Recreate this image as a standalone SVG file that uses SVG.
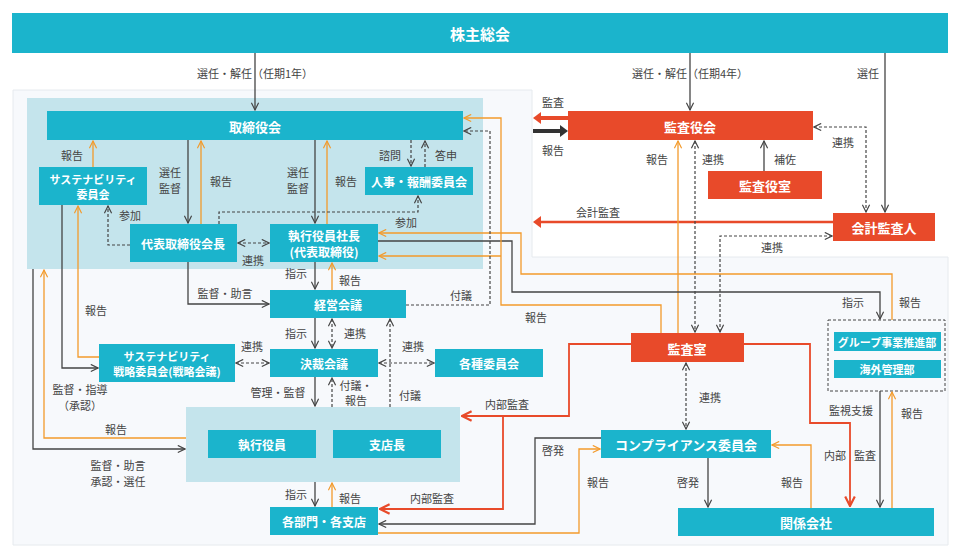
<svg xmlns="http://www.w3.org/2000/svg" width="960" height="557" viewBox="0 0 960 557">
<defs>
<style>
.t{fill:#1bb4cc}.r{fill:#e84a2a}
.nt{font-family:"Noto Sans CJK JP","Noto Sans",sans-serif;font-size:12px;font-weight:bold;fill:#fff;text-anchor:middle;dominant-baseline:central}
.lb{font-family:"Noto Sans CJK JP","Noto Sans",sans-serif;font-size:11px;fill:#444;text-anchor:middle;dominant-baseline:central}
.g{stroke:#444;stroke-width:1.3;fill:none}
.o{stroke:#f39a2b;stroke-width:1.3;fill:none}
.rd{stroke:#e84a2a;stroke-width:1.8;fill:none}
.d{stroke:#444;stroke-width:1.2;fill:none;stroke-dasharray:3 2}
</style>
<marker id="ag" viewBox="0 0 10 10" refX="9" refY="5" markerWidth="9" markerHeight="9" orient="auto-start-reverse" markerUnits="userSpaceOnUse"><path d="M1,1 L9,5 L1,9" fill="none" stroke="#444" stroke-width="1.3"/></marker>
<marker id="ao" viewBox="0 0 10 10" refX="9" refY="5" markerWidth="9" markerHeight="9" orient="auto-start-reverse" markerUnits="userSpaceOnUse"><path d="M1,1 L9,5 L1,9" fill="none" stroke="#f39a2b" stroke-width="1.3"/></marker>
<marker id="ar" viewBox="0 0 10 10" refX="9" refY="5" markerWidth="12" markerHeight="12" orient="auto-start-reverse" markerUnits="userSpaceOnUse"><path d="M1,1 L9,5 L1,9" fill="none" stroke="#e84a2a" stroke-width="1.8"/></marker>
</defs>
<rect width="960" height="557" fill="#fff"/>
<path d="M13,90 H532 V257 H948 V545 H13 Z" fill="#f7f9fc" stroke="#e6eaee"/>
<rect x="27" y="98" width="456" height="171" fill="#c4e4ec"/>
<rect x="186" y="407" width="274" height="75" fill="#c4e4ec"/>
<rect x="828" y="320" width="117" height="71" fill="none" stroke="#444" stroke-dasharray="3 2"/>

<g id="connectors">
<line class="g" x1="255" y1="53" x2="255" y2="110" marker-end="url(#ag)"/>
<line class="g" x1="690" y1="53" x2="690" y2="110" marker-end="url(#ag)"/>
<line class="g" x1="885" y1="53" x2="885" y2="212" marker-end="url(#ag)"/>
<line x1="568" y1="118" x2="536" y2="118" stroke="#e84a2a" stroke-width="4"/><path d="M541,112 L533,118 L541,124 Z" fill="#e84a2a"/>
<line x1="533" y1="131" x2="563" y2="131" stroke="#333" stroke-width="4"/><path d="M560,125 L568,131 L560,137 Z" fill="#333"/>
<line x1="833" y1="222" x2="538" y2="222" stroke="#e84a2a" stroke-width="2.5"/><path d="M541,216 L533,222 L541,228 Z" fill="#e84a2a"/>
<line class="g" x1="764" y1="171" x2="764" y2="141" marker-end="url(#ag)"/>
<polyline class="d" points="814,127 866,127 866,212" marker-start="url(#ag)" marker-end="url(#ag)"/>
<polyline class="d" points="720,332 720,236 832,236" marker-start="url(#ag)" marker-end="url(#ag)"/>
<line class="d" x1="695" y1="141" x2="695" y2="332" marker-start="url(#ag)" marker-end="url(#ag)"/>
<line class="o" x1="678" y1="333" x2="678" y2="141" marker-end="url(#ao)"/>
<line class="d" x1="686" y1="363" x2="686" y2="429" marker-start="url(#ag)" marker-end="url(#ag)"/>
<polyline class="rd" points="631,344 569,344 569,416 462,416" marker-end="url(#ar)"/>
<polyline class="rd" points="503,416 503,509 380,509" marker-end="url(#ar)"/>
<polyline class="rd" points="744,344 810,344 810,423 850,423 850,506" marker-end="url(#ar)"/>
<polyline class="g" points="601,438 535,438 535,524 379,524" marker-end="url(#ag)"/>
<polyline class="o" points="378,533 579,533 579,449 600,449" marker-end="url(#ao)"/>
<line class="g" x1="708" y1="458" x2="708" y2="507" marker-end="url(#ag)"/>
<polyline class="o" points="811,508 811,445 772,445" marker-end="url(#ao)"/>
<line class="g" x1="880" y1="391" x2="880" y2="507" marker-end="url(#ag)"/>
<line class="o" x1="892" y1="508" x2="892" y2="392" marker-end="url(#ao)"/>
<polyline class="g" points="378,241 512,241 512,292 880,292 880,319" marker-end="url(#ag)"/>
<polyline class="o" points="892,320 892,274 521,274 521,233 379,233" marker-end="url(#ao)"/>
<polyline class="o" points="661,333 661,305 501,305 501,118 464,118" marker-end="url(#ao)"/>
<line class="o" x1="501" y1="256" x2="379" y2="256" marker-end="url(#ao)"/>
<polyline class="d" points="406,305 490,305 490,131 464,131" marker-end="url(#ag)"/>
<line class="g" x1="188" y1="140" x2="188" y2="223" marker-end="url(#ag)"/>
<line class="o" x1="201" y1="224" x2="201" y2="141" marker-end="url(#ao)"/>
<line class="g" x1="315" y1="140" x2="315" y2="223" marker-end="url(#ag)"/>
<line class="o" x1="327" y1="224" x2="327" y2="141" marker-end="url(#ao)"/>
<line class="d" x1="411" y1="140" x2="411" y2="166" marker-end="url(#ag)"/>
<line class="d" x1="425" y1="167" x2="425" y2="141" marker-end="url(#ag)"/>
<line class="o" x1="93" y1="167" x2="93" y2="141" marker-end="url(#ao)"/>
<polyline class="d" points="130,245 108,245 108,206" marker-end="url(#ag)"/>
<polyline class="d" points="219,224 219,212 418,212 418,196" marker-end="url(#ag)"/>
<line class="d" x1="238" y1="243" x2="269" y2="243" marker-start="url(#ag)" marker-end="url(#ag)"/>
<line class="g" x1="315" y1="262" x2="315" y2="289" marker-end="url(#ag)"/>
<line class="o" x1="332" y1="290" x2="332" y2="263" marker-end="url(#ao)"/>
<polyline class="g" points="188,262 188,304 269,304" marker-end="url(#ag)"/>
<line class="g" x1="315" y1="318" x2="315" y2="348" marker-end="url(#ag)"/>
<line class="d" x1="332" y1="319" x2="332" y2="348" marker-start="url(#ag)" marker-end="url(#ag)"/>
<line class="d" x1="236" y1="363" x2="269" y2="363" marker-start="url(#ag)" marker-end="url(#ag)"/>
<line class="d" x1="379" y1="363" x2="434" y2="363" marker-start="url(#ag)" marker-end="url(#ag)"/>
<line class="g" x1="315" y1="377" x2="315" y2="406" marker-end="url(#ag)"/>
<line class="d" x1="332" y1="407" x2="332" y2="378" marker-end="url(#ag)"/>
<line class="d" x1="390" y1="407" x2="390" y2="319" marker-end="url(#ag)"/>
<line class="g" x1="315" y1="482" x2="315" y2="506" marker-end="url(#ag)"/>
<line class="o" x1="332" y1="507" x2="332" y2="483" marker-end="url(#ao)"/>
<polyline class="g" points="62,205 62,368 98,368" marker-end="url(#ag)"/>
<polyline class="o" points="99,357 78,357 78,206" marker-end="url(#ao)"/>
<polyline class="g" points="33,269 33,449 185,449" marker-end="url(#ag)"/>
<polyline class="o" points="186,438 44,438 44,270" marker-end="url(#ao)"/>
</g>

<g id="n-kabunushi"><rect class="t" x="12" y="13" width="936" height="40"/><text class="nt" x="480" y="33" style="font-size:15px">株主総会</text></g>
<g id="n-torishimari"><rect class="t" x="47" y="111" width="416" height="29"/><text class="nt" x="255" y="126" style="font-size:13px">取締役会</text></g>
<g id="n-sus1"><rect class="t" x="39" y="167" width="108" height="38"/><text class="nt" x="93" y="179" style="font-size:11px">サステナビリティ</text><text class="nt" x="93" y="194" style="font-size:11px">委員会</text></g>
<g id="n-jinji"><rect class="t" x="365" y="167" width="108" height="28"/><text class="nt" x="419" y="181">人事・報酬委員会</text></g>
<g id="n-kaicho"><rect class="t" x="130" y="224" width="107" height="38"/><text class="nt" x="183" y="243">代表取締役会長</text></g>
<g id="n-shacho"><rect class="t" x="270" y="224" width="108" height="38"/><text class="nt" x="324" y="235">執行役員社長</text><text class="nt" x="324" y="251">(代表取締役)</text></g>
<g id="n-keiei"><rect class="t" x="270" y="290" width="136" height="28"/><text class="nt" x="338" y="304">経営会議</text></g>
<g id="n-kessai"><rect class="t" x="270" y="349" width="108" height="28"/><text class="nt" x="324" y="363">決裁会議</text></g>
<g id="n-sus2"><rect class="t" x="99" y="344" width="136" height="38"/><text class="nt" x="167" y="356" style="font-size:11px">サステナビリティ</text><text class="nt" x="167" y="371" style="font-size:11px">戦略委員会(戦略会議)</text></g>
<g id="n-kakushu"><rect class="t" x="435" y="349" width="108" height="28"/><text class="nt" x="489" y="363">各種委員会</text></g>
<g id="n-shikko"><rect class="t" x="208" y="430" width="108" height="28"/><text class="nt" x="262" y="444">執行役員</text></g>
<g id="n-shiten"><rect class="t" x="333" y="430" width="108" height="28"/><text class="nt" x="387" y="444">支店長</text></g>
<g id="n-kakubu"><rect class="t" x="270" y="507" width="108" height="28"/><text class="nt" x="324" y="521">各部門・各支店</text></g>
<g id="n-kansayakukai"><rect class="r" x="568" y="111" width="245" height="29"/><text class="nt" x="690" y="126" style="font-size:13px">監査役会</text></g>
<g id="n-kansayakushitsu"><rect class="r" x="708" y="171" width="114" height="28"/><text class="nt" x="765" y="185" style="font-size:13px">監査役室</text></g>
<g id="n-kaikei"><rect class="r" x="833" y="213" width="102" height="28"/><text class="nt" x="884" y="227" style="font-size:13px">会計監査人</text></g>
<g id="n-kansashitsu"><rect class="r" x="631" y="333" width="113" height="29"/><text class="nt" x="687" y="348" style="font-size:13px">監査室</text></g>
<g id="n-group"><rect class="t" x="834" y="332" width="107" height="19"/><text class="nt" x="887" y="342" style="font-size:11px">グループ事業推進部</text></g>
<g id="n-kaigai"><rect class="t" x="834" y="360" width="107" height="18"/><text class="nt" x="887" y="369" style="font-size:11px">海外管理部</text></g>
<g id="n-comp"><rect class="t" x="601" y="430" width="170" height="28"/><text class="nt" x="686" y="444" style="font-size:13px">コンプライアンス委員会</text></g>
<g id="n-kankei"><rect class="t" x="678" y="508" width="256" height="28"/><text class="nt" x="806" y="522" style="font-size:13px">関係会社</text></g>

<g id="labels">
<text class="lb" x="255" y="73">選任・解任（任期1年）</text>
<text class="lb" x="690" y="73">選任・解任（任期4年）</text>
<text class="lb" x="868" y="73">選任</text>
<text class="lb" x="553" y="102">監査</text>
<text class="lb" x="553" y="150">報告</text>
<text class="lb" x="598" y="212">会計監査</text>
<text class="lb" x="785" y="159">補佐</text>
<text class="lb" x="843" y="142">連携</text>
<text class="lb" x="772" y="247">連携</text>
<text class="lb" x="713" y="159">連携</text>
<text class="lb" x="657" y="159">報告</text>
<text class="lb" x="710" y="397">連携</text>
<text class="lb" x="507" y="404">内部監査</text>
<text class="lb" x="432" y="498">内部監査</text>
<text class="lb" x="835" y="455">内部</text><text class="lb" x="865" y="455">監査</text>
<text class="lb" x="553" y="450">啓発</text>
<text class="lb" x="598" y="482">報告</text>
<text class="lb" x="688" y="482">啓発</text>
<text class="lb" x="792" y="482">報告</text>
<text class="lb" x="851" y="410">監視支援</text>
<text class="lb" x="912" y="413">報告</text>
<text class="lb" x="853" y="302">指示</text>
<text class="lb" x="910" y="302">報告</text>
<text class="lb" x="536" y="317">報告</text>
<text class="lb" x="461" y="295">付議</text>
<text class="lb" x="170" y="172">選任</text><text class="lb" x="170" y="188">監督</text>
<text class="lb" x="221" y="181">報告</text>
<text class="lb" x="298" y="172">選任</text><text class="lb" x="298" y="188">監督</text>
<text class="lb" x="346" y="181">報告</text>
<text class="lb" x="390" y="155">諮問</text>
<text class="lb" x="446" y="155">答申</text>
<text class="lb" x="72" y="155">報告</text>
<text class="lb" x="130" y="215">参加</text>
<text class="lb" x="406" y="222">参加</text>
<text class="lb" x="253" y="260">連携</text>
<text class="lb" x="296" y="273">指示</text>
<text class="lb" x="350" y="280">報告</text>
<text class="lb" x="225" y="293">監督・助言</text>
<text class="lb" x="296" y="333">指示</text>
<text class="lb" x="355" y="333">連携</text>
<text class="lb" x="252" y="346">連携</text>
<text class="lb" x="413" y="346">連携</text>
<text class="lb" x="278" y="392">管理・監督</text>
<text class="lb" x="356" y="385">付議・</text><text class="lb" x="356" y="400">報告</text>
<text class="lb" x="410" y="395">付議</text>
<text class="lb" x="296" y="494">指示</text>
<text class="lb" x="350" y="498">報告</text>
<text class="lb" x="96" y="310">報告</text>
<text class="lb" x="80" y="389">監督・指導</text><text class="lb" x="80" y="405">（承認）</text>
<text class="lb" x="116" y="429">報告</text>
<text class="lb" x="118" y="465">監督・助言</text><text class="lb" x="118" y="481">承認・選任</text>
</g>
</svg>
